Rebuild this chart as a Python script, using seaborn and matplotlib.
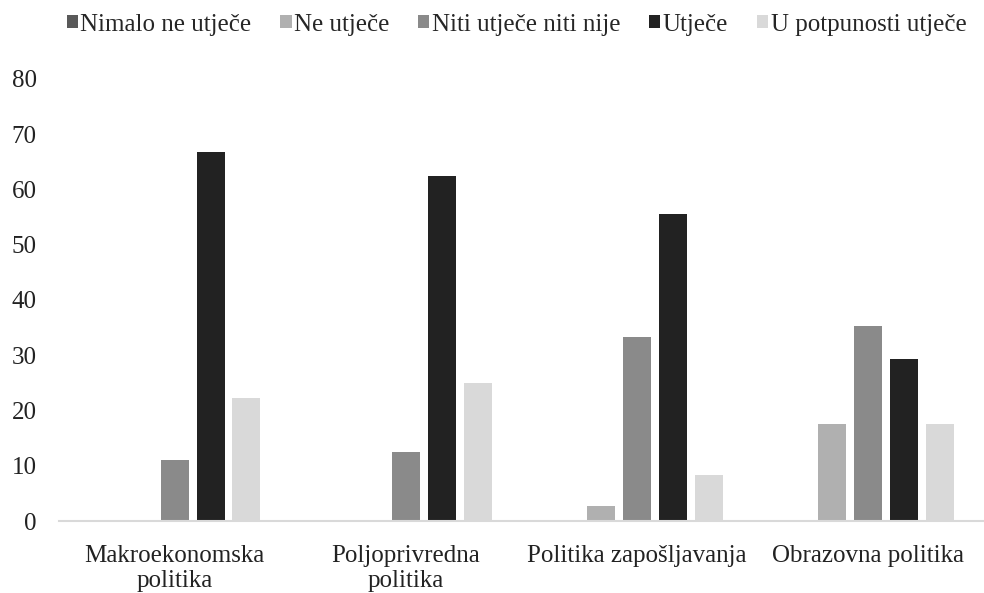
import pandas as pd
import seaborn as sns
from matplotlib import pyplot as plt

# categories and series
categories = ['Makroekonomska\npolitika', 'Poljoprivredna\npolitika',
              'Politika zapošljavanja', 'Obrazovna politika']
series = ['Nimalo ne utječe', 'Ne utječe', 'Niti utječe niti nije',
          'Utječe', 'U potpunosti utječe']
nimalo = [0, 0, 0, 0]
ne_utjece = [0, 0, 2.8, 17.6]
niti = [11.1, 12.5, 33.3, 35.3]
utjece = [66.7, 62.5, 55.6, 29.4]
potpuno = [22.2, 25.0, 8.3, 17.6]
colors = ['#595959', '#b0b0b0', '#8a8a8a', '#222222', '#d9d9d9']

rows = []
for name, vals in zip(series, [nimalo, ne_utjece, niti, utjece, potpuno]):
    for cat, v in zip(categories, vals):
        rows.append({'cat': cat, 'serie': name, 'val': v})
df = pd.DataFrame(rows)

sns.set_style('white')
plt.rcParams['font.family'] = ['Liberation Serif', 'DejaVu Serif']

fig = plt.figure(figsize=(9.84, 5.93), dpi=100)
ax = fig.add_axes([0.06, 0.1214, 0.94, 0.7454])
sns.barplot(data=df, x='cat', y='val', hue='serie', order=categories,
            hue_order=series, palette=colors, width=0.776, gap=0.22,
            linewidth=0, ax=ax)

ax.set_ylim(0, 80)
ax.set_xlim(-0.5, 3.5)
ax.set_yticks(range(0, 81, 10))
ax.set_xlabel('')
ax.set_ylabel('')
ax.tick_params(axis='both', length=0, labelsize=18, colors='#222222')
ax.tick_params(axis='x', pad=17)
ax.tick_params(axis='y', pad=16)
for lbl in ax.get_xticklabels():
    lbl.set_linespacing(1.2)
for s in ['top', 'right', 'left']:
    ax.spines[s].set_visible(False)
ax.spines['bottom'].set_color('#d9d9d9')
ax.spines['bottom'].set_linewidth(1.5)

handles, labels = ax.get_legend_handles_labels()
ax.get_legend().remove()
fig.legend(handles, labels, loc='upper center', bbox_to_anchor=(0.525, 1.015),
           ncol=5, frameon=False, fontsize=18, handlelength=0.45,
           handleheight=0.45, handletextpad=0.1, columnspacing=1.15)

plt.savefig('out.png', dpi=100)
plt.close()
